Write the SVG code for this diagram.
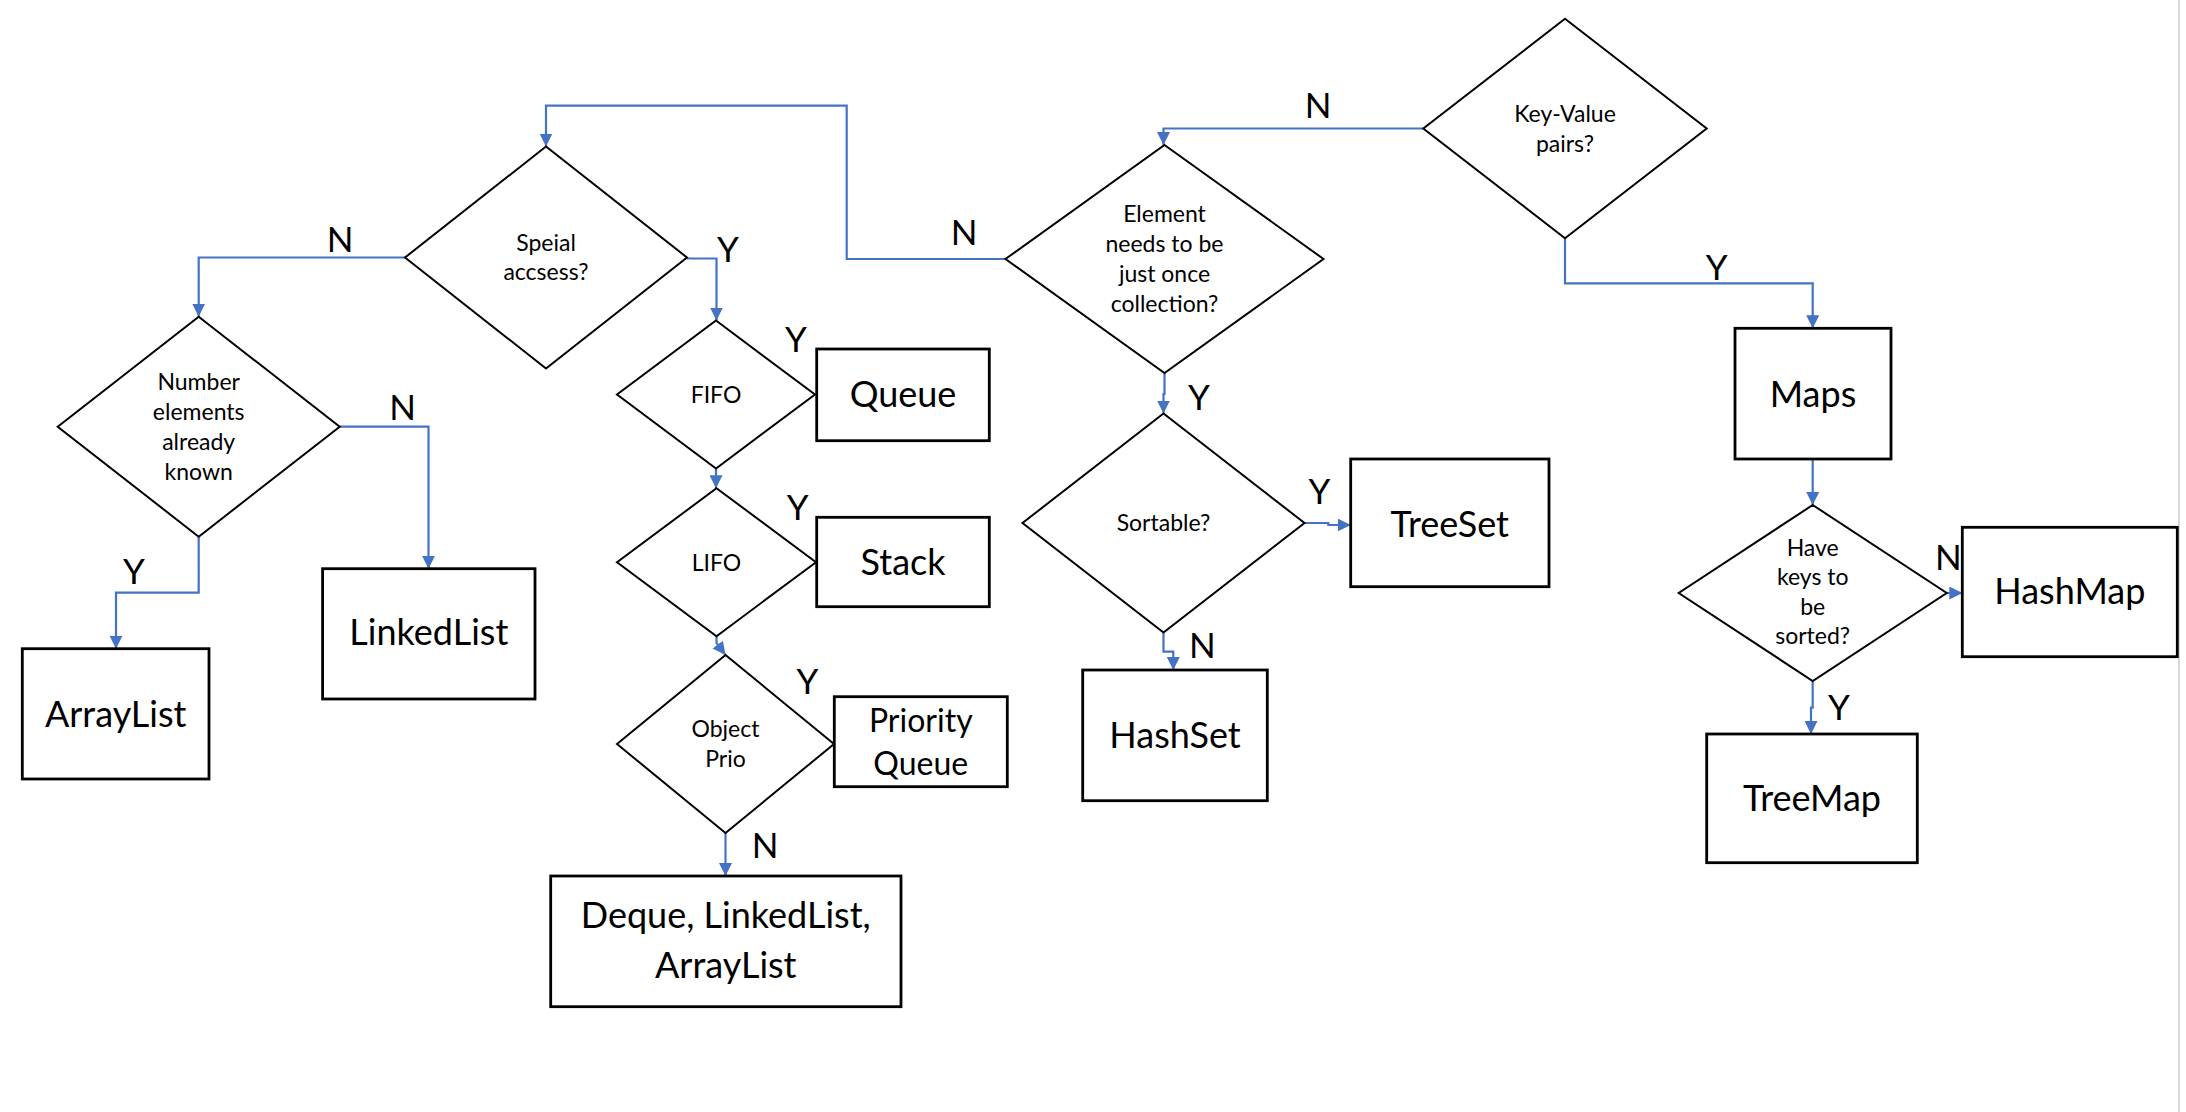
<svg xmlns="http://www.w3.org/2000/svg" width="2186" height="1112" viewBox="0 0 2186 1112">
<defs>
<marker id="ah" viewBox="0 0 10 10" refX="10" refY="5" markerWidth="13" markerHeight="13" markerUnits="userSpaceOnUse" orient="auto">
<path d="M0,0 L10,5 L0,10 z" fill="#4472C4"/>
</marker>
<style>
.dia{fill:#fff;stroke:#000;stroke-width:2}
.box{fill:#fff;stroke:#000;stroke-width:2.8}
.con{fill:none;stroke:#4472C4;stroke-width:2.2;marker-end:url(#ah)}
text{font-family:Lato,"Open Sans","Liberation Sans",sans-serif;fill:#000;text-anchor:middle}
.q{font-size:23px}
.b{font-size:36px}
.pq{font-size:32px}
.lbl{font-size:35px}
</style>
</defs>
<rect x="0" y="0" width="2186" height="1112" fill="#fff"/>
<line x1="2179" y1="0" x2="2179" y2="1112" stroke="#d9d9d9" stroke-width="2"/>

<g id="connectors">
<path class="con" d="M1005.5,259 H846.7 V105.7 H546 V146.5"/>
<path class="con" d="M1423.3,128.5 H1163.5 V145"/>
<path class="con" d="M405,257.5 H198.7 V316.7"/>
<path class="con" d="M687,258.5 H716.5 V320.5"/>
<path class="con" d="M339.7,426.7 H428.5 V568.7"/>
<path class="con" d="M198.7,536.7 V592.7 H116 V648.7"/>
<path class="con" d="M716,468.5 V488.2"/>
<path class="con" d="M716.5,636.2 V643 L725.5,655"/>
<path class="con" d="M725.5,833 V876"/>
<path class="con" d="M1164.5,373 V394 H1163.5 V413.5"/>
<path class="con" d="M1304.5,523 H1328.3 V525 H1350.7"/>
<path class="con" d="M1163.5,632.5 V651.7 H1173.3 V670"/>
<path class="con" d="M1565,238.3 V283.3 H1812.7 V328.3"/>
<path class="con" d="M1812.7,459 V505"/>
<path class="con" d="M1946.7,593 H1962.3"/>
<path class="con" d="M1812.7,681 V707.7 H1811 V734"/>
</g>

<g id="labels">
<text class="lbl" x="340" y="251.7">N</text>
<text class="lbl" x="728" y="262.3">Y</text>
<text class="lbl" x="402.7" y="420">N</text>
<text class="lbl" x="134" y="584">Y</text>
<text class="lbl" x="796" y="351.7">Y</text>
<text class="lbl" x="797.7" y="520">Y</text>
<text class="lbl" x="807.3" y="694">Y</text>
<text class="lbl" x="765" y="858.3">N</text>
<text class="lbl" x="964" y="245">N</text>
<text class="lbl" x="1318" y="118.3">N</text>
<text class="lbl" x="1199" y="410">Y</text>
<text class="lbl" x="1319.3" y="504.3">Y</text>
<text class="lbl" x="1202.3" y="658.3">N</text>
<text class="lbl" x="1716.7" y="280">Y</text>
<text class="lbl" x="1948.3" y="570">N</text>
<text class="lbl" x="1839" y="720">Y</text>
</g>

<g id="speial">
<polygon class="dia" points="546,146.5 687,257.5 546,368.5 405,257.5"/>
<text class="q" x="546" y="250.7">Speial</text>
<text class="q" x="546" y="280.3">accsess?</text>
</g>
<g id="number">
<polygon class="dia" points="198.7,316.7 339.7,426.7 198.7,536.7 57.7,426.7"/>
<text class="q" x="198.7" y="390">Number</text>
<text class="q" x="198.7" y="420">elements</text>
<text class="q" x="198.7" y="450">already</text>
<text class="q" x="198.7" y="480">known</text>
</g>
<g id="fifo">
<polygon class="dia" points="716,320.5 815,394.5 716,468.5 617,394.5"/>
<text class="q" x="716" y="402.7">FIFO</text>
</g>
<g id="lifo">
<polygon class="dia" points="716.5,488.2 816,562.2 716.5,636.2 617,562.2"/>
<text class="q" x="716.5" y="570.7">LIFO</text>
</g>
<g id="objectprio">
<polygon class="dia" points="725.5,655 834,744 725.5,833 617,744"/>
<text class="q" x="725.5" y="736.7">Object</text>
<text class="q" x="725.5" y="766.7">Prio</text>
</g>
<g id="element">
<polygon class="dia" points="1164.5,145 1323.5,259 1164.5,373 1005.5,259"/>
<text class="q" x="1164.5" y="221.7">Element</text>
<text class="q" x="1164.5" y="251.7">needs to be</text>
<text class="q" x="1164.5" y="281.7">just once</text>
<text class="q" x="1164.5" y="311.7">collection?</text>
</g>
<g id="sortable">
<polygon class="dia" points="1163.5,413.5 1304.5,523 1163.5,632.5 1022.5,523"/>
<text class="q" x="1163.5" y="531">Sortable?</text>
</g>
<g id="keyvalue">
<polygon class="dia" points="1565,18.7 1706.7,128.5 1565,238.3 1423.3,128.5"/>
<text class="q" x="1565" y="122.3">Key-Value</text>
<text class="q" x="1565" y="151.7">pairs?</text>
</g>
<g id="havekeys">
<polygon class="dia" points="1812.7,505 1946.7,593 1812.7,681 1678.7,593"/>
<text class="q" x="1812.7" y="555.7">Have</text>
<text class="q" x="1812.7" y="585">keys to</text>
<text class="q" x="1812.7" y="615">be</text>
<text class="q" x="1812.7" y="644.3">sorted?</text>
</g>

<g id="arraylist">
<rect class="box" x="22.3" y="648.7" width="186.7" height="130.3"/>
<text class="b" x="115.7" y="726.7">ArrayList</text>
</g>
<g id="linkedlist">
<rect class="box" x="322.6" y="568.7" width="212.4" height="130.3"/>
<text class="b" x="428.8" y="645">LinkedList</text>
</g>
<g id="queue">
<rect class="box" x="816.7" y="349" width="172.6" height="91.7"/>
<text class="b" x="903" y="406.7">Queue</text>
</g>
<g id="stack">
<rect class="box" x="816.7" y="517.3" width="172.6" height="89.4"/>
<text class="b" x="903" y="575">Stack</text>
</g>
<g id="priorityqueue">
<rect class="box" x="834.3" y="696.7" width="173" height="90"/>
<text class="pq" x="920.8" y="731.7">Priority</text>
<text class="pq" x="920.8" y="775">Queue</text>
</g>
<g id="deque">
<rect class="box" x="550.7" y="876" width="350.3" height="130.7"/>
<text class="b" x="725.8" y="928.3">Deque, LinkedList,</text>
<text class="b" x="725.8" y="978.3">ArrayList</text>
</g>
<g id="hashset">
<rect class="box" x="1082.7" y="670" width="184.6" height="130.7"/>
<text class="b" x="1175" y="748.3">HashSet</text>
</g>
<g id="treeset">
<rect class="box" x="1350.7" y="459" width="198.3" height="127.7"/>
<text class="b" x="1449.8" y="536.7">TreeSet</text>
</g>
<g id="maps">
<rect class="box" x="1735" y="328.3" width="156" height="130.7"/>
<text class="b" x="1813" y="406.7">Maps</text>
</g>
<g id="hashmap">
<rect class="box" x="1962.3" y="527.3" width="215" height="129.4"/>
<text class="b" x="2069.8" y="604.3">HashMap</text>
</g>
<g id="treemap">
<rect class="box" x="1706.7" y="734" width="210.6" height="128.7"/>
<text class="b" x="1812" y="810.7">TreeMap</text>
</g>
</svg>
